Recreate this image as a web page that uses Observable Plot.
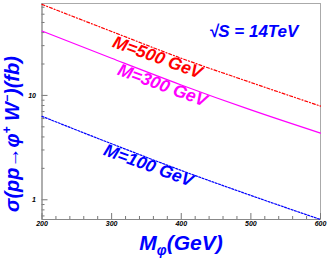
<!DOCTYPE html>
<html><head><meta charset="utf-8">
<script src="https://cdn.jsdelivr.net/npm/d3@7"></script>
<script src="https://cdn.jsdelivr.net/npm/@observablehq/plot@0.6"></script>
<style>body{margin:0;background:#fff}</style>
</head><body><div id="chart"></div>
<script>
const masses = [200, 300, 400, 500, 600];
const sigmaM500 = [74.5, 41, 22.7, 13.3, 7.9];
const sigmaM300 = [41.4, 22.7, 12.6, 7.26, 4.35];
const sigmaM100 = [6.3, 3.44, 1.91, 1.10, 0.647];
const seriesNames = ["M=500 GeV", "M=300 GeV", "M=100 GeV"];
const seriesColors = ["#ff0000", "#ff00ff", "#0000ff"];
const labelX = [366, 373, 353];
const labelY = [23.1, 12.5, 2.13];
const energyLabel = "\u221AS = 14TeV";
const energyX = 504, energyY = 41;
const xMajorTicks = [200, 300, 400, 500, 600];
const xMinorTicks = [220,240,260,280,320,340,360,380,420,440,460,480,520,540,560,580];
const yMajorTicks = [1, 10];
const yMinorTicks = [0.7,0.8,0.9,2,3,4,5,6,7,8,9,20,30,40,50,60,70];
const yDomain = [0.647, 76];
const xDomain = [200, 600];

const series = [sigmaM500, sigmaM300, sigmaM100];
const rows = [];
series.forEach((vals, s) => masses.forEach((m, i) => rows.push({name: seriesNames[s], m, v: vals[i]})));
const labels = seriesNames.map((n, i) => ({name: n, x: labelX[i], y: labelY[i], c: seriesColors[i]}));
const dashes = ["3,2,1,2", null, "2,1.5"];

const tickFont = {fontSize: 7, fontWeight: "bold", fontStyle: "italic", fontFamily: "Liberation Sans, Arial, sans-serif"};

const plot = Plot.plot({
  width: 327, height: 258,
  marginLeft: 41.5, marginRight: 7, marginTop: 3, marginBottom: 39,
  style: {fontFamily: "Liberation Sans, Arial, sans-serif", background: "#fff"},
  x: {domain: xDomain},
  y: {type: "log", domain: yDomain},
  marks: [
    Plot.frame({stroke: "#aaa"}),
    Plot.axisX({anchor: "bottom", ticks: xMajorTicks, tickSize: -6, tickPadding: 8, tickFormat: d => String(d), stroke: "#777", ...tickFont, label: null}),
    Plot.axisX({anchor: "bottom", ticks: xMinorTicks, tickSize: -3, tickFormat: null, text: null, stroke: "#777", label: null}),
    Plot.axisY({anchor: "left", ticks: yMajorTicks, tickSize: -6, tickPadding: 12, tickFormat: d => String(d), stroke: "#777", ...tickFont, label: null}),
    Plot.axisY({anchor: "left", ticks: yMinorTicks, tickSize: -3, tickFormat: null, text: null, stroke: "#777", label: null}),
    Plot.ruleX([xDomain[0]], {stroke: "#888"}),
    Plot.ruleY([yDomain[0]], {stroke: "#888"}),
    ...seriesNames.map((n, s) => Plot.line(rows.filter(r => r.name === n), {
      x: "m", y: "v", stroke: seriesColors[s], strokeWidth: 1.2, strokeDasharray: dashes[s], curve: "monotone-x"
    })),
    Plot.text(labels, {x: "x", y: "y", text: "name", fill: "c", rotate: 20, fontSize: 17.5, fontWeight: "bold", fontStyle: "italic", textAnchor: "middle", lineAnchor: "middle"}),
    Plot.text([energyLabel], {x: energyX, y: energyY, text: d => d, fill: "#0000ff", fontSize: 17, fontWeight: "bold", fontStyle: "italic", textAnchor: "middle", lineAnchor: "middle"})
  ]
});

const svg = d3.select(plot);
const xt = svg.append("text")
  .attr("x", 181).attr("y", 250).attr("text-anchor", "middle")
  .attr("fill", "#0000ff").attr("font-weight", "bold").attr("font-style", "italic")
  .attr("font-size", 21).attr("font-family", "Liberation Sans, Arial, sans-serif");
xt.append("tspan").text("M");
xt.append("tspan").attr("font-size", 14).attr("dy", 5).text("\u03C6");
xt.append("tspan").attr("dy", -5).text("(GeV)");

const yt = svg.append("text")
  .attr("transform", "translate(19,134) rotate(-90)")
  .attr("text-anchor", "middle")
  .attr("fill", "#0000ff").attr("font-weight", "bold").attr("font-style", "italic")
  .attr("font-size", 20).attr("font-family", "Liberation Sans, Arial, sans-serif");
yt.append("tspan").text("\u03C3(pp\u2192\u03C6");
yt.append("tspan").attr("font-size", 12).attr("dy", -8).text("+");
yt.append("tspan").attr("dy", 8).text(" W");
yt.append("tspan").attr("font-size", 12).attr("dy", -8).text("\u2212");
yt.append("tspan").attr("dy", 8).text(")(fb)");

document.getElementById("chart").appendChild(plot);
</script>
</body></html>
